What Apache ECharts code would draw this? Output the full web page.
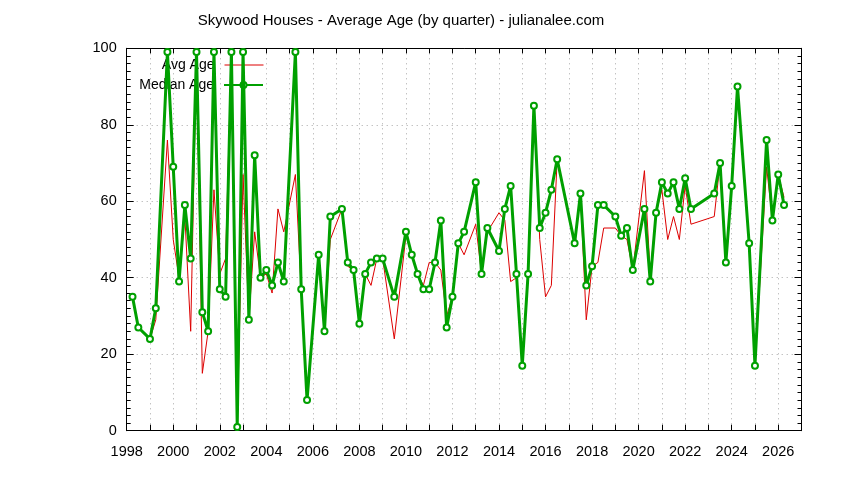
<!DOCTYPE html>
<html>
<head>
<meta charset="utf-8">
<script src="https://cdn.jsdelivr.net/npm/echarts@6/dist/echarts.min.js"></script>
<style>
html,body{margin:0;padding:0;background:#fff;}
#chart{width:844px;height:480px;}
</style>
</head>
<body>
<div id="chart"></div>
<script>
// Quarter positions (decimal years)
const quarters = [
  1998.25, 1998.5, 1999.0, 1999.25, 1999.75, 2000.0, 2000.25, 2000.5, 2000.75,
  2001.0, 2001.25, 2001.5, 2001.75, 2002.0, 2002.25, 2002.5, 2002.75,
  2003.0, 2003.25, 2003.5, 2003.75, 2004.0, 2004.25, 2004.5, 2004.75,
  2005.25, 2005.5, 2005.75, 2006.25, 2006.5, 2006.75,
  2007.25, 2007.5, 2007.75, 2008.0, 2008.25, 2008.5, 2008.75,
  2009.0, 2009.5, 2010.0, 2010.25, 2010.5, 2010.75,
  2011.0, 2011.25, 2011.5, 2011.75, 2012.0, 2012.25, 2012.5,
  2013.0, 2013.25, 2013.5, 2014.0, 2014.25, 2014.5, 2014.75,
  2015.0, 2015.25, 2015.5, 2015.75, 2016.0, 2016.25, 2016.5,
  2017.25, 2017.5, 2017.75, 2018.0, 2018.25, 2018.5,
  2019.0, 2019.25, 2019.5, 2019.75, 2020.25, 2020.5, 2020.75,
  2021.0, 2021.25, 2021.5, 2021.75, 2022.0, 2022.25,
  2023.25, 2023.5, 2023.75, 2024.0, 2024.25, 2024.75,
  2025.0, 2025.5, 2025.75, 2026.0, 2026.25
];
const avgAge = [
  35, 27, 24, 29, 76, 50, 40, 56, 26,
  99, 15, 26, 63, 41, 45, 99, 1,
  67, 29, 52, 40, 41, 36, 58, 52,
  67, 37, 8, 46, 26, 50,
  58, 43, 42, 28, 41, 38, 45,
  45, 24, 51, 46, 41, 38,
  44, 44, 42, 30, 35, 49, 46,
  54, 41, 52, 57, 55, 39, 40,
  17, 41, 85, 50, 35, 38, 71,
  49, 62, 29, 43, 44, 53,
  53, 51, 50, 42, 68, 41, 57,
  63, 50, 56, 50, 64, 54,
  56, 70, 44, 64, 90, 49,
  17, 69, 55, 67, 61
];
const medianAge = [
  35, 27, 24, 32, 99, 69, 39, 59, 45,
  99, 31, 26, 99, 37, 35, 99, 1,
  99, 29, 72, 40, 42, 38, 44, 39,
  99, 37, 8, 46, 26, 56,
  58, 44, 42, 28, 41, 44, 45,
  45, 35, 52, 46, 41, 37,
  37, 44, 55, 27, 35, 49, 52,
  65, 41, 53, 47, 58, 64, 41,
  17, 41, 85, 53, 57, 63, 71,
  49, 62, 38, 43, 59, 59,
  56, 51, 53, 42, 58, 39, 57,
  65, 62, 65, 58, 66, 58,
  62, 70, 44, 64, 90, 49,
  17, 76, 55, 67, 59
];
const xTickLabels = ['1998','2000','2002','2004','2006','2008','2010','2012','2014','2016','2018','2020','2022','2024','2026'];
const yTickLabels = ['0','20','40','60','80','100'];

const FONT = 'Liberation Sans, Arial, sans-serif';
const RED = '#dd0000';
const GREEN = '#00a000';
const GRIDC = '#a8a8a8';

const chart = echarts.init(document.getElementById('chart'), null, {renderer: 'canvas'});

const gridLeft = 126.7, gridRight = 844 - 801.5, gridTop = 48.3, gridBottom = 480 - 430.7;

const option = {
  animation: false,
  backgroundColor: '#fff',
  title: {
    text: 'Skywood Houses - Average Age (by quarter) - julianalee.com',
    left: 401,
    textAlign: 'center',
    top: 13.5,
    padding: 0,
    textStyle: {fontFamily: FONT, fontSize: 15, fontWeight: 'normal', color: '#000'}
  },
  legend: [
    {
      data: ['Avg Age'],
      orient: 'horizontal',
      align: 'right',
      right: 844 - 264,
      top: 58,
      padding: 0,
      itemWidth: 39,
      itemHeight: 7.5,
      itemGap: 0,
      itemStyle: {opacity: 0},
      lineStyle: {color: RED, width: 1, opacity: 1},
      textStyle: {fontFamily: FONT, fontSize: 14, color: '#000', padding: [0, 5, 0, 0]}
    },
    {
      data: ['Median Age'],
      orient: 'horizontal',
      align: 'right',
      right: 844 - 264,
      top: 78,
      padding: 0,
      itemWidth: 39,
      itemHeight: 7.5,
      itemGap: 0,
      textStyle: {fontFamily: FONT, fontSize: 14, color: '#000', padding: [0, 5, 0, 0]}
    }
  ],
  grid: {left: gridLeft, right: gridRight, top: gridTop, bottom: gridBottom, containLabel: false},
  xAxis: [
    {
      type: 'value', min: 1998, max: 2027, interval: 1, position: 'bottom',
      axisLine: {show: true, onZero: false, lineStyle: {color: '#000', width: 1}},
      axisTick: {show: true, inside: true, length: 6, lineStyle: {color: '#000'}},
      axisLabel: {
        show: true, margin: 14, color: '#000', fontFamily: FONT, fontSize: 14.5,
        formatter: function (v) { const s = String(v); return xTickLabels.indexOf(s) >= 0 ? s : ''; }
      },
      splitLine: {show: true, lineStyle: {color: GRIDC, width: 1, type: [1, 4]}}
    },
    {
      type: 'value', min: 1998, max: 2027, interval: 1, position: 'top',
      axisLine: {show: true, onZero: false, lineStyle: {color: '#000', width: 1}},
      axisTick: {show: true, inside: true, length: 5, lineStyle: {color: '#000'}},
      axisLabel: {show: false},
      splitLine: {show: false}
    }
  ],
  yAxis: [
    {
      type: 'value', min: 0, max: 100, interval: 20, position: 'left',
      axisLine: {show: true, onZero: false, lineStyle: {color: '#000', width: 1}},
      axisTick: {show: true, inside: true, length: 7, lineStyle: {color: '#000'}},
      minorTick: {show: true, splitNumber: 10, length: 4, lineStyle: {color: '#000'}},
      axisLabel: {
        show: true, margin: 10, color: '#000', fontFamily: FONT, fontSize: 14.5,
        formatter: function (v) { const s = String(v); return yTickLabels.indexOf(s) >= 0 ? s : ''; }
      },
      splitLine: {show: true, lineStyle: {color: GRIDC, width: 1, type: [1, 4]}}
    },
    {
      type: 'value', min: 0, max: 100, interval: 20, position: 'right',
      axisLine: {show: true, onZero: false, lineStyle: {color: '#000', width: 1}},
      axisTick: {show: true, inside: true, length: 7, lineStyle: {color: '#000'}},
      minorTick: {show: true, splitNumber: 10, length: 4, lineStyle: {color: '#000'}},
      axisLabel: {show: false},
      splitLine: {show: false}
    }
  ],
  series: [
    {
      name: 'Avg Age',
      type: 'line',
      xAxisIndex: 0, yAxisIndex: 0,
      data: quarters.map((q, i) => [q, avgAge[i]]),
      symbol: 'none',
      showSymbol: false,
      lineStyle: {color: RED, width: 1},
      itemStyle: {color: RED},
      z: 3
    },
    {
      name: 'Median Age',
      type: 'line',
      xAxisIndex: 0, yAxisIndex: 0,
      data: quarters.map((q, i) => [q, medianAge[i]]),
      symbol: 'emptyCircle',
      symbolSize: 6,
      showAllSymbol: true,
      lineStyle: {color: GREEN, width: 3},
      itemStyle: {color: GREEN, borderWidth: 1.5},
      z: 4
    }
  ]
};
chart.setOption(option);
</script>
</body>
</html>
